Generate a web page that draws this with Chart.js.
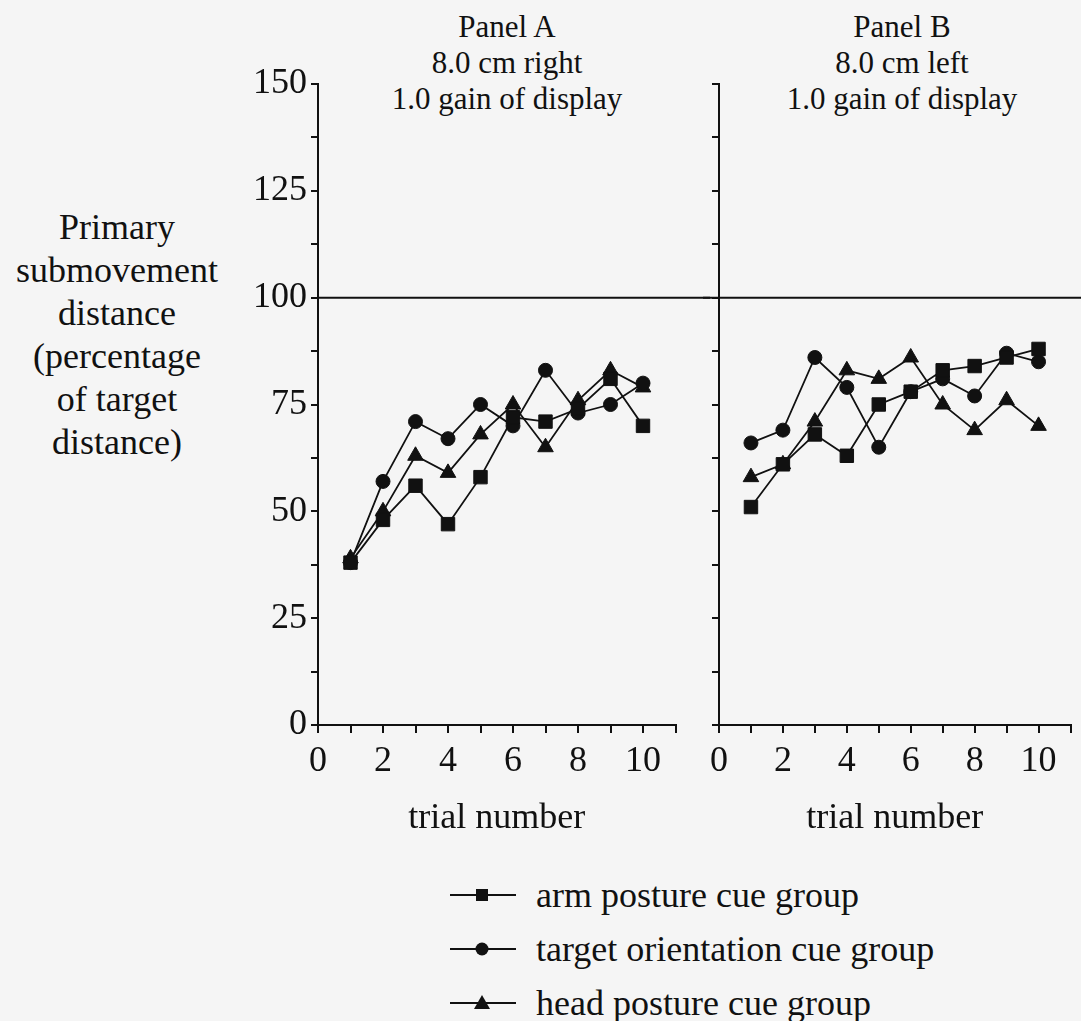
<!DOCTYPE html>
<html>
<head>
<meta charset="utf-8">
<script src="https://cdn.jsdelivr.net/npm/chart.js@4"></script>
<style>
  body { margin: 0; background: #f5f5f5; font-family: "Liberation Serif", "Times New Roman", serif; color: #111; }
  #wrap { position: relative; width: 1081px; height: 1021px; overflow: hidden; }
  canvas { position: absolute; top: 0; }
  .title { position: absolute; font-size: 31px; line-height: 36px; text-align: center; white-space: nowrap; transform: translateX(-50%); }
  .ytitle { position: absolute; left: 117px; top: 206px; font-size: 36px; line-height: 43px; text-align: center; white-space: nowrap; transform: translateX(-50%); }
  .legend { position: absolute; left: 448px; top: 868px; font-size: 36px; line-height: 54px; }
  .legend div { display: flex; align-items: center; height: 54px; }
  .legend svg { margin-right: 18px; }
</style>
</head>
<body>
<div id="wrap">
  <div class="title" style="left:507px; top:9px;">Panel A<br>8.0 cm right<br>1.0 gain of display</div>
  <div class="title" style="left:902px; top:9px;">Panel B<br>8.0 cm left<br>1.0 gain of display</div>
  <div class="ytitle">Primary<br>submovement<br>distance<br>(percentage<br>of target<br>distance)</div>
  <canvas id="chartA" width="560" height="840" style="left:150px"></canvas>
  <canvas id="chartB" width="378" height="840" style="left:703px"></canvas>
  <div class="legend" id="legend"></div>
</div>
<script>
// trial numbers
var trials = [1, 2, 3, 4, 5, 6, 7, 8, 9, 10];

// Panel A - 8.0 cm right
var armA    = [38, 48, 56, 47, 58, 72, 71, 74, 81, 70];
var targetA = [38, 57, 71, 67, 75, 70, 83, 73, 75, 80];
var headA   = [39, 50, 63, 59, 68, 75, 65, 76, 83, 79];

// Panel B - 8.0 cm left
var armB    = [51, 61, 68, 63, 75, 78, 83, 84, 86, 88];
var targetB = [66, 69, 86, 79, 65, 78, 81, 77, 87, 85];
var headB   = [58, 61, 71, 83, 81, 86, 75, 69, 76, 70];

var groupNames = ['arm posture cue group', 'target orientation cue group', 'head posture cue group'];
var yTickValues = [0, 25, 50, 75, 100, 125, 150];
var xTickValues = [0, 2, 4, 6, 8, 10];
var refLevel = 100;

Chart.defaults.font.family = '"Liberation Serif", "Times New Roman", serif';
Chart.defaults.color = '#111';

var ink = '#111';
var styles = [
  { pointStyle: 'rect', pointRadius: 9.5 },
  { pointStyle: 'circle', pointRadius: 7 },
  { pointStyle: 'triangle', pointRadius: 9 }
];

function toPoints(vals) {
  return trials.map(function (t, i) { return { x: t, y: vals[i] }; });
}

function makeSets(series) {
  return series.map(function (vals, i) {
    return {
      label: groupNames[i],
      data: toPoints(vals),
      showLine: true,
      borderColor: ink,
      backgroundColor: ink,
      borderWidth: 1.8,
      pointStyle: styles[i].pointStyle,
      pointRadius: styles[i].pointRadius,
      pointBackgroundColor: ink,
      pointBorderColor: ink,
      pointBorderWidth: 1
    };
  });
}

// line across at 100 %
var refLine = {
  id: 'refLine',
  beforeDatasetsDraw: function (chart, args, opts) {
    var y = chart.scales.y.getPixelForValue(refLevel);
    var ctx = chart.ctx;
    ctx.save();
    ctx.strokeStyle = ink;
    ctx.lineWidth = 2;
    ctx.beginPath();
    ctx.moveTo(opts.fromEdge ? 0 : chart.chartArea.left, y);
    ctx.lineTo(chart.width, y);
    ctx.stroke();
    ctx.restore();
  }
};

function makeChart(id, series, yWidth, padRight, showYLabels, fromEdge) {
  return new Chart(document.getElementById(id), {
    type: 'scatter',
    data: { datasets: makeSets(series) },
    plugins: [refLine],
    options: {
      responsive: false,
      animation: false,
      layout: { padding: { top: 84, right: padRight, left: 0, bottom: 0 } },
      plugins: {
        legend: { display: false },
        tooltip: { enabled: false },
        refLine: { fromEdge: fromEdge }
      },
      scales: {
        x: {
          type: 'linear',
          min: 0,
          max: 11,
          afterFit: function (s) { s.height = 115; },
          ticks: {
            stepSize: 1,
            autoSkip: false,
            maxRotation: 0,
            padding: 7,
            font: { size: 36 },
            callback: function (v) { return xTickValues.indexOf(v) >= 0 ? String(v) : ''; }
          },
          grid: { drawOnChartArea: false, drawTicks: true, tickLength: 8, color: ink, lineWidth: 2 },
          border: { display: true, color: ink, width: 2 },
          title: { display: true, text: 'trial number', font: { size: 36 }, padding: { top: 0, bottom: 0 } }
        },
        y: {
          min: 0,
          max: 150,
          afterFit: function (s) { s.width = yWidth; },
          ticks: {
            stepSize: 12.5,
            autoSkip: false,
            padding: 4,
            font: { size: 36 },
            callback: function (v) { return showYLabels && yTickValues.indexOf(v) >= 0 ? String(v) : ''; }
          },
          grid: { drawOnChartArea: false, drawTicks: true, tickLength: 7, color: ink, lineWidth: 2 },
          border: { display: true, color: ink, width: 2 }
        }
      }
    }
  });
}

makeChart('chartA', [armA, targetA, headA], 168, 34.5, true, false);
makeChart('chartB', [armB, targetB, headB], 8, 5.5, false, true);

// legend
var shapes = [
  '<rect x="28" y="9" width="12" height="12" fill="#111"/>',
  '<circle cx="34" cy="15" r="6.5" fill="#111"/>',
  '<polygon points="34,7 42,21 26,21" fill="#111"/>'
];
var legendHtml = '';
groupNames.forEach(function (name, i) {
  legendHtml += '<div><svg width="70" height="30"><line x1="2" y1="15" x2="68" y2="15" stroke="#111" stroke-width="2"/>' +
    shapes[i] + '</svg><span>' + name + '</span></div>';
});
document.getElementById('legend').innerHTML = legendHtml;
</script>
</body>
</html>
